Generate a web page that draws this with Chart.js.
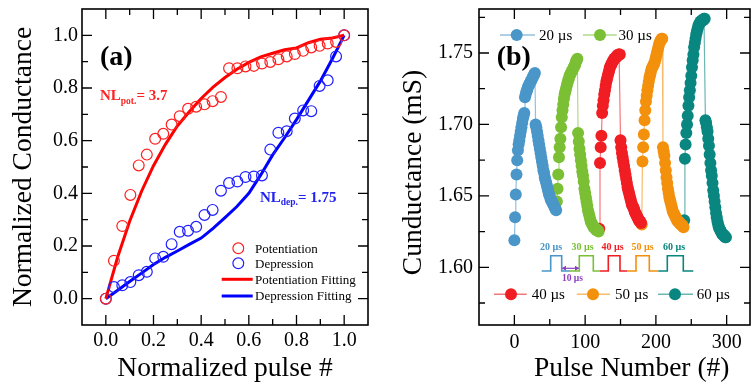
<!DOCTYPE html>
<html>
<head>
<meta charset="utf-8">
<script src="https://cdn.jsdelivr.net/npm/chart.js@4.4.1/dist/chart.umd.min.js"></script>
<style>
  html, body { margin: 0; padding: 0; background: #fff; overflow: hidden; }
  #wrap { position: relative; width: 756px; height: 388px; }
  .box { position: absolute; top: 0; width: 378px; height: 388px; }
</style>
</head>
<body>
<div id="wrap">
  <div class="box" style="left:0"><canvas id="chartA"></canvas></div>
  <div class="box" style="left:378px"><canvas id="chartB"></canvas></div>
</div>
<script>
// ---- panel (a): normalized potentiation / depression ----
const aXTicks = [0, 0.2, 0.4, 0.6, 0.8, 1.0];
const aXMinor = [0.1, 0.3, 0.5, 0.7, 0.9];
const aYTicks = [0, 0.2, 0.4, 0.6, 0.8, 1.0];
const aYMinor = [0.1, 0.3, 0.5, 0.7, 0.9];

const pulseNorm = [0, 0.034, 0.069, 0.103, 0.138, 0.172, 0.207, 0.241, 0.276, 0.310,
  0.345, 0.379, 0.414, 0.448, 0.483, 0.517, 0.552, 0.586, 0.621, 0.655,
  0.690, 0.724, 0.759, 0.793, 0.828, 0.862, 0.897, 0.931, 0.966, 1.0];
const potentiation = [0, 0.144, 0.276, 0.394, 0.506, 0.547, 0.607, 0.626, 0.661, 0.693,
  0.721, 0.729, 0.738, 0.750, 0.766, 0.875, 0.875, 0.882, 0.884, 0.893,
  0.899, 0.909, 0.920, 0.929, 0.941, 0.954, 0.960, 0.969, 0.975, 1.0];
const depression = [0, 0.044, 0.051, 0.063, 0.089, 0.102, 0.153, 0.159, 0.207, 0.254,
  0.258, 0.273, 0.318, 0.337, 0.410, 0.439, 0.445, 0.462, 0.464, 0.468,
  0.566, 0.630, 0.636, 0.684, 0.715, 0.712, 0.808, 0.829, 0.920, 1.0];

const fitX = [0, 0.05, 0.1, 0.15, 0.2, 0.25, 0.3, 0.35, 0.4, 0.45, 0.5,
  0.55, 0.6, 0.65, 0.7, 0.75, 0.8, 0.85, 0.9, 0.95, 1.0];
const potFit = [0, 0.159, 0.294, 0.408, 0.505, 0.586, 0.656, 0.710, 0.760, 0.803, 0.840,
  0.871, 0.897, 0.918, 0.932, 0.945, 0.952, 0.972, 0.985, 0.990, 1.0];
const depFit = [0, 0.032, 0.065, 0.097, 0.130, 0.157, 0.181, 0.206, 0.230, 0.267, 0.308,
  0.350, 0.400, 0.470, 0.546, 0.611, 0.680, 0.753, 0.826, 0.910, 1.0];

const nlPot = 3.7;
const nlDep = 1.75;

// ---- panel (b): conductance vs pulse number ----
const bXTicks = [0, 100, 200, 300];
const bXMinor = [50, 150, 250];
const bYTicks = [1.60, 1.65, 1.70, 1.75];
const bYMinor = [1.575, 1.625, 1.675, 1.725, 1.775];

const widths = ['20 µs', '30 µs', '40 µs', '50 µs', '60 µs'];
const startPulse = [0, 60, 120, 180, 240];

const pot20 = [1.619, 1.635, 1.651, 1.665, 1.675, 1.682, 1.686, 1.689, 1.692, 1.695,
  1.698, 1.701, 1.704, 1.706, 1.708, 1.719, 1.721, 1.723, 1.724, 1.726,
  1.727, 1.728, 1.729, 1.730, 1.731, 1.732, 1.733, 1.734, 1.735, 1.736];
const dep20 = [1.700, 1.698, 1.695, 1.692, 1.689, 1.686, 1.683, 1.680, 1.677, 1.674,
  1.671, 1.668, 1.666, 1.663, 1.661, 1.659, 1.657, 1.655, 1.653, 1.651,
  1.650, 1.648, 1.647, 1.646, 1.645, 1.644, 1.643, 1.642, 1.641, 1.640];
const pot30 = [1.646, 1.655, 1.665, 1.677, 1.684, 1.690, 1.698, 1.705, 1.710, 1.714,
  1.718, 1.721, 1.723, 1.725, 1.727, 1.729, 1.731, 1.732, 1.734, 1.735,
  1.736, 1.737, 1.738, 1.739, 1.740, 1.741, 1.742, 1.744, 1.745, 1.746];
const dep30 = [1.694, 1.688, 1.683, 1.679, 1.675, 1.671, 1.667, 1.664, 1.660, 1.655,
  1.652, 1.649, 1.646, 1.643, 1.640, 1.638, 1.636, 1.634, 1.632, 1.631,
  1.630, 1.629, 1.628, 1.628, 1.627, 1.627, 1.626, 1.626, 1.626, 1.625];
const pot40 = [1.627, 1.673, 1.684, 1.692, 1.708, 1.713, 1.717, 1.721, 1.724, 1.727,
  1.730, 1.732, 1.734, 1.736, 1.738, 1.740, 1.741, 1.742, 1.743, 1.744,
  1.745, 1.746, 1.746, 1.747, 1.747, 1.748, 1.748, 1.749, 1.749, 1.749];
const dep40 = [1.689, 1.684, 1.680, 1.677, 1.674, 1.671, 1.668, 1.665, 1.662, 1.659,
  1.656, 1.654, 1.652, 1.650, 1.648, 1.646, 1.644, 1.643, 1.642, 1.641,
  1.639, 1.638, 1.637, 1.636, 1.635, 1.634, 1.633, 1.632, 1.632, 1.631];
const pot50 = [1.630, 1.674, 1.684, 1.693, 1.703, 1.710, 1.716, 1.720, 1.724, 1.727,
  1.730, 1.733, 1.735, 1.737, 1.739, 1.740, 1.741, 1.742, 1.743, 1.745,
  1.747, 1.749, 1.751, 1.753, 1.755, 1.757, 1.758, 1.759, 1.760, 1.760];
const dep50 = [1.684, 1.681, 1.678, 1.673, 1.668, 1.663, 1.659, 1.655, 1.652, 1.649,
  1.647, 1.645, 1.643, 1.641, 1.639, 1.638, 1.637, 1.636, 1.635, 1.634,
  1.633, 1.632, 1.632, 1.631, 1.631, 1.630, 1.630, 1.629, 1.629, 1.628];
const pot60 = [1.633, 1.676, 1.686, 1.694, 1.700, 1.706, 1.713, 1.719, 1.724, 1.729,
  1.734, 1.740, 1.745, 1.749, 1.754, 1.757, 1.760, 1.763, 1.765, 1.767,
  1.769, 1.770, 1.771, 1.772, 1.772, 1.773, 1.773, 1.773, 1.774, 1.774];
const dep60 = [1.703, 1.701, 1.698, 1.695, 1.690, 1.685, 1.679, 1.673, 1.668, 1.664,
  1.659, 1.654, 1.650, 1.646, 1.642, 1.638, 1.635, 1.632, 1.630, 1.628,
  1.627, 1.626, 1.625, 1.624, 1.623, 1.623, 1.622, 1.622, 1.621, 1.621];

const seriesB = [[pot20, dep20], [pot30, dep30], [pot40, dep40], [pot50, dep50], [pot60, dep60]];

// ---- styling ----
const SERIF = '"Liberation Serif", "Times New Roman", serif';
const RED = '#ff1f1f', BLUE = '#1f1fff';
const bColors = ['#4a96c8', '#7abf34', '#f01d23', '#f3900c', '#0a8680'];
const bLineColors = ['rgba(74,150,200,0.6)', 'rgba(122,191,52,0.6)', 'rgba(240,29,35,0.6)',
  'rgba(243,144,12,0.6)', 'rgba(10,134,128,0.6)'];

Chart.defaults.font.family = SERIF;
Chart.defaults.color = '#000';

function drawFrame(chart, xMajor, xMinor, yMajor, yMinor) {
  const {ctx, chartArea: a, scales: {x, y}} = chart;
  ctx.save();
  ctx.strokeStyle = '#000';
  ctx.lineWidth = 1.6;
  ctx.strokeRect(a.left, a.top, a.right - a.left, a.bottom - a.top);
  ctx.lineWidth = 1.3;
  ctx.beginPath();
  const xt = (vals, len) => vals.forEach(v => {
    const p = x.getPixelForValue(v);
    ctx.moveTo(p, a.bottom); ctx.lineTo(p, a.bottom - len);
    ctx.moveTo(p, a.top); ctx.lineTo(p, a.top + len);
  });
  const yt = (vals, len) => vals.forEach(v => {
    const p = y.getPixelForValue(v);
    ctx.moveTo(a.left, p); ctx.lineTo(a.left + len, p);
    ctx.moveTo(a.right, p); ctx.lineTo(a.right - len, p);
  });
  xt(xMajor, 10); xt(xMinor, 6);
  yt(yMajor, 10); yt(yMinor, 6);
  ctx.stroke();
  ctx.restore();
}

function linearAxis(min, max, ticks, fmt, pad, size, extra) {
  return Object.assign({
    type: 'linear', min: min, max: max,
    grid: { display: false, drawTicks: false },
    border: { display: false },
    afterBuildTicks: s => { s.ticks = ticks.map(v => ({ value: v })); },
    ticks: { autoSkip: false, maxRotation: 0, padding: pad, color: '#000',
             font: { size: 20 }, callback: fmt },
    afterFit: s => {
      if (s.isHorizontal()) { s.height = size; s.paddingLeft = 0; s.paddingRight = 0; }
      else { s.width = size; s.paddingTop = 0; s.paddingBottom = 0; }
    }
  }, extra || {});
}

function drawNL(ctx, x, y, sub, rest, color) {
  ctx.fillStyle = color;
  ctx.textAlign = 'left';
  ctx.textBaseline = 'alphabetic';
  ctx.font = 'bold 15px ' + SERIF;
  ctx.fillText('NL', x, y);
  x += ctx.measureText('NL').width;
  ctx.font = 'bold 9.5px ' + SERIF;
  ctx.fillText(sub, x, y + 3.5);
  x += ctx.measureText(sub).width;
  ctx.font = 'bold 15px ' + SERIF;
  ctx.fillText(rest, x, y);
}

// ---- chart (a) ----
const annotA = {
  id: 'annotA',
  afterDraw(chart) {
    drawFrame(chart, aXTicks, aXMinor, aYTicks, aYMinor);
    const ctx = chart.ctx;
    ctx.save();
    ctx.fillStyle = '#000';
    ctx.textAlign = 'left';
    ctx.textBaseline = 'alphabetic';
    ctx.font = 'bold 28px ' + SERIF;
    ctx.fillText('(a)', 100, 65);
    drawNL(ctx, 100, 100, 'pot.', '= ' + nlPot, '#ff2424');
    drawNL(ctx, 260, 201.7, 'dep.', '= ' + nlDep, '#2424f0');

    const rows = [
      { text: 'Potentiation', color: RED, kind: 'circle', y: 248.3 },
      { text: 'Depression', color: BLUE, kind: 'circle', y: 263.3 },
      { text: 'Potentiation Fitting', color: '#ff0000', kind: 'line', y: 279.3 },
      { text: 'Depression Fitting', color: '#0000ff', kind: 'line', y: 296 }
    ];
    rows.forEach(r => {
      ctx.strokeStyle = r.color;
      if (r.kind === 'circle') {
        ctx.lineWidth = 1.2;
        ctx.beginPath(); ctx.arc(238.3, r.y, 5.4, 0, Math.PI * 2); ctx.stroke();
      } else {
        ctx.lineWidth = 3;
        ctx.beginPath(); ctx.moveTo(221.7, r.y); ctx.lineTo(252.7, r.y); ctx.stroke();
      }
      ctx.fillStyle = '#000';
      ctx.font = '13px ' + SERIF;
      ctx.fillText(r.text, 255, r.y + 4.4);
    });
    ctx.restore();
  }
};

new Chart(document.getElementById('chartA'), {
  type: 'scatter',
  data: {
    datasets: [
      { label: 'Potentiation', data: pulseNorm.map((x, i) => ({ x: x, y: potentiation[i] })),
        pointRadius: 5.4, pointBorderWidth: 1.2, pointBorderColor: RED,
        pointBackgroundColor: 'rgba(0,0,0,0)' },
      { label: 'Depression', data: pulseNorm.map((x, i) => ({ x: x, y: depression[i] })),
        pointRadius: 5.4, pointBorderWidth: 1.2, pointBorderColor: BLUE,
        pointBackgroundColor: 'rgba(0,0,0,0)' },
      { label: 'Potentiation Fitting', data: fitX.map((x, i) => ({ x: x, y: potFit[i] })),
        showLine: true, pointRadius: 0, borderColor: '#ff0000', borderWidth: 3 },
      { label: 'Depression Fitting', data: fitX.map((x, i) => ({ x: x, y: depFit[i] })),
        showLine: true, pointRadius: 0, borderColor: '#0000ff', borderWidth: 3 }
    ]
  },
  options: {
    responsive: true,
    maintainAspectRatio: false,
    animation: false,
    devicePixelRatio: 1,
    layout: { padding: { top: 9, right: 10, bottom: 0, left: 0 } },
    plugins: { legend: { display: false }, tooltip: { enabled: false } },
    scales: {
      x: linearAxis(-0.1, 1.1, aXTicks, v => v.toFixed(1), 4, 63, {
        title: { display: true, text: 'Normalized pulse #', color: '#000',
                 font: { size: 27.5 }, padding: { top: 0, bottom: 3 } }
      }),
      y: linearAxis(-0.1, 1.1, aYTicks, v => v.toFixed(1), 4, 82, {
        title: { display: true, text: 'Normalized Conductance', color: '#000',
                 font: { size: 27.5 }, padding: { top: 7, bottom: 0 } }
      })
    }
  },
  plugins: [annotA]
});

// ---- chart (b) ----
const annotB = {
  id: 'annotB',
  afterDraw(chart) {
    drawFrame(chart, bXTicks, bXMinor, bYTicks, bYMinor);
    const ctx = chart.ctx;
    ctx.save();
    ctx.textAlign = 'left';
    ctx.textBaseline = 'alphabetic';
    ctx.fillStyle = '#000';
    ctx.font = 'bold 28px ' + SERIF;
    ctx.fillText('(b)', 118.7, 65);

    // axis titles
    ctx.font = '27.5px ' + SERIF;
    ctx.textAlign = 'center';
    ctx.textBaseline = 'middle';
    ctx.fillText('Pulse Number (#)', 253.7, 369);
    ctx.save();
    ctx.translate(36, 172.5);
    ctx.rotate(-Math.PI / 2);
    ctx.fillText('Cunductance (mS)', 0, 0);
    ctx.restore();

    // legend
    const legendRows = [
      { i: 0, x0: 122, x1: 157, cx: 138.7, tx: 161, y: 35 },
      { i: 1, x0: 205, x1: 238.7, cx: 222, tx: 240.5, y: 35 },
      { i: 2, x0: 116, x1: 148.7, cx: 133, tx: 153.7, y: 294.3 },
      { i: 3, x0: 198.7, x1: 232, cx: 215, tx: 237, y: 294.3 },
      { i: 4, x0: 280, x1: 315, cx: 297, tx: 318.7, y: 294.3 }
    ];
    legendRows.forEach(r => {
      ctx.strokeStyle = bLineColors[r.i];
      ctx.lineWidth = 1.4;
      ctx.beginPath(); ctx.moveTo(r.x0, r.y); ctx.lineTo(r.x1, r.y); ctx.stroke();
      ctx.fillStyle = bColors[r.i];
      ctx.beginPath(); ctx.arc(r.cx, r.y, 6, 0, Math.PI * 2); ctx.fill();
      ctx.fillStyle = '#000';
      ctx.font = '15px ' + SERIF;
      ctx.textAlign = 'left';
      ctx.textBaseline = 'middle';
      ctx.fillText(widths[r.i], r.tx, r.y + 1);
    });

    // pulse scheme inset
    const base = 271, high = 255.7;
    const pulses = [[163.7, 172.7, 183.7, 192], [192, 201.3, 215.3, 222],
      [222, 230.3, 242, 249.3], [249.3, 258, 271.3, 280.3], [280.3, 289.3, 305.3, 315.3]];
    const labelX = [173, 204.5, 234.5, 264.5, 296];
    ctx.lineWidth = 1.6;
    pulses.forEach((p, i) => {
      ctx.strokeStyle = bColors[i];
      ctx.beginPath();
      ctx.moveTo(p[0], base); ctx.lineTo(p[1], base); ctx.lineTo(p[1], high);
      ctx.lineTo(p[2], high); ctx.lineTo(p[2], base); ctx.lineTo(p[3], base);
      ctx.stroke();
      ctx.fillStyle = bColors[i];
      ctx.font = 'bold 10px ' + SERIF;
      ctx.textAlign = 'center';
      ctx.fillText(widths[i], labelX[i], 247.7);
    });
    const purple = '#8a3fbf';
    ctx.strokeStyle = purple;
    ctx.fillStyle = purple;
    ctx.lineWidth = 1.2;
    ctx.beginPath(); ctx.moveTo(184.5, 268.3); ctx.lineTo(200.5, 268.3); ctx.stroke();
    ctx.beginPath();
    ctx.moveTo(183.7, 268.3); ctx.lineTo(188, 265.8); ctx.lineTo(188, 270.8); ctx.closePath();
    ctx.moveTo(201.3, 268.3); ctx.lineTo(197, 265.8); ctx.lineTo(197, 270.8); ctx.closePath();
    ctx.fill();
    ctx.font = 'bold 9.5px ' + SERIF;
    ctx.fillText('10 µs', 194.5, 278.3);
    ctx.restore();
  }
};

new Chart(document.getElementById('chartB'), {
  type: 'scatter',
  data: {
    datasets: seriesB.map((s, k) => ({
      label: widths[k],
      data: s[0].concat(s[1]).map((v, i) => ({ x: startPulse[k] + i, y: v })),
      showLine: true,
      borderColor: bLineColors[k],
      borderWidth: 1.2,
      pointRadius: 6,
      pointBorderWidth: 0,
      pointBackgroundColor: bColors[k]
    }))
  },
  options: {
    responsive: true,
    maintainAspectRatio: false,
    animation: false,
    devicePixelRatio: 1,
    layout: { padding: { top: 9, right: 3, bottom: 0, left: 0 } },
    plugins: { legend: { display: false }, tooltip: { enabled: false } },
    scales: {
      x: linearAxis(-50, 333, bXTicks, v => String(v), 6, 63),
      y: linearAxis(1.5596, 1.7808, bYTicks, v => v.toFixed(2), 6, 101)
    }
  },
  plugins: [annotB]
});
</script>
</body>
</html>
